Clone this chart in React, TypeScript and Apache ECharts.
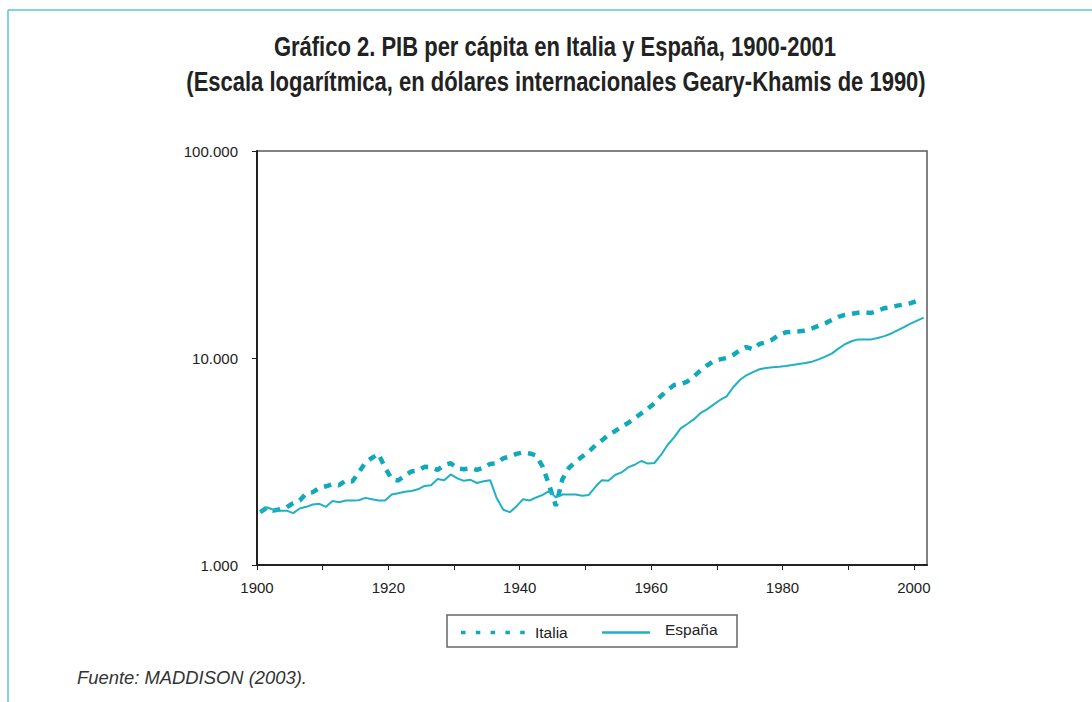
import React, { useEffect, useRef } from "react";
import * as echarts from "echarts";

// ---- Data (GDP per capita, 1990 international Geary-Khamis dollars) ----
const firstYear = 1900;
const years: number[] = [];
for (let y = firstYear; y <= 2001; y++) years.push(y);

// Italia as drawn in the picture (its dashed line stops at 2000)
const italia: number[] = [
  // 1900-1909
  1800, 1890, 1830, 1860, 1900, 1990, 2050, 2220, 2250, 2360,
  // 1910-1919
  2400, 2460, 2430, 2560, 2530, 2800, 3120, 3290, 3440, 2950,
  // 1920-1929
  2600, 2560, 2700, 2830, 2860, 2980, 2970, 2880, 3040, 3100,
  // 1930-1939
  2930, 2900, 2940, 2880, 2950, 3080, 3100, 3280, 3340, 3440,
  // 1940-1949
  3500, 3460, 3380, 2980, 2420, 1930, 2600, 2950, 3150, 3340,
  // 1950-1959
  3520, 3780, 4000, 4250, 4430, 4650, 4850, 5120, 5400, 5700,
  // 1960-1969
  6050, 6550, 7000, 7400, 7480, 7690, 8150, 8700, 9200, 9650,
  // 1970-1979
  9850, 10000, 10350, 10900, 11300, 11000, 11700, 11900, 12300, 12950,
  // 1980-1989
  13300, 13400, 13450, 13550, 13900, 14300, 14700, 15250, 15800, 16150,
  // 1990-1999
  16350, 16550, 16650, 16500, 16900, 17400, 17600, 17900, 18150, 18400,
  // 2000
  18900,
];

const espana: number[] = [
  // 1900-1909
  1800, 1900, 1850, 1830, 1830, 1780, 1875, 1910, 1960, 1975,
  // 1910-1919
  1910, 2040, 2010, 2050, 2050, 2055, 2110, 2080, 2050, 2050,
  // 1920-1929
  2190, 2220, 2260, 2280, 2320, 2410, 2430, 2600, 2570, 2740,
  // 1930-1939
  2620, 2550, 2580, 2490, 2540, 2570, 2100, 1850, 1800, 1920,
  // 1940-1949
  2080, 2050, 2120, 2180, 2280, 2120, 2190, 2190, 2190, 2160,
  // 1950-1959
  2180, 2380, 2570, 2550, 2720, 2800, 2960, 3050, 3180, 3090,
  // 1960-1969
  3110, 3400, 3800, 4140, 4570, 4800, 5050, 5410, 5650, 5950,
  // 1970-1979
  6270, 6520, 7220, 7830, 8250, 8550, 8820, 8950, 9020, 9080,
  // 1980-1989
  9150, 9250, 9350, 9450, 9600, 9850, 10150, 10500, 11100, 11650,
  // 1990-1999
  12050, 12300, 12300, 12300, 12500, 12750, 13100, 13600, 14100, 14650,
  // 2000-2001
  15150, 15660,
];

const yTicks: number[] = [1000, 10000, 100000];
const titleLines: string[] = [
  "Gráfico 2. PIB per cápita en Italia y España, 1900-2001",
  "(Escala logarítmica, en dólares internacionales Geary-Khamis de 1990)",
];
const seriesNames: string[] = ["Italia", "España"];
const sourceText = "Fuente: MADDISON (2003).";

const COL_IT = "#10a9bb";
const COL_ES = "#20b1c2";
const FONT = '"Liberation Sans", Arial, Helvetica, sans-serif';

function fmtThousands(v: number): string {
  return String(Math.round(v)).replace(/\B(?=(\d{3})+(?!\d))/g, ".");
}

export default function App() {
  const ref = useRef<HTMLDivElement>(null);

  useEffect(() => {
    if (!ref.current) return;
    const chart = echarts.init(ref.current, null, { renderer: "svg" });

    const itData = italia.map((v, i) => [years[i], v]);
    const esData = espana.map((v, i) => [years[i], v]);

    const option: any = {
      animation: false,
      backgroundColor: "#ffffff",
      grid: {
        left: 257,
        top: 151,
        width: 670,
        height: 414,
        show: true,
        borderColor: "#5a5a5a",
        borderWidth: 1.5,
        backgroundColor: "transparent",
      },
      xAxis: [
        {
          type: "value",
          min: 1900,
          max: 2002,
          interval: 10,
          axisLine: { show: true, lineStyle: { color: "#222", width: 2 } },
          axisTick: { show: true, length: 5, inside: false, lineStyle: { color: "#222", width: 1 } },
          axisLabel: {
            margin: 15,
            fontFamily: FONT,
            fontSize: 15,
            color: "#222",
            showMaxLabel: false,
            formatter: (v: number) => (v % 20 === 0 ? String(v) : ""),
          },
          splitLine: { show: false },
        },
        {
          type: "value",
          min: 1899.5,
          max: 2001.5,
          show: false,
          splitLine: { show: false },
        },
      ],
      yAxis: {
        type: "log",
        logBase: 10,
        min: yTicks[0],
        max: yTicks[yTicks.length - 1],
        axisLine: { show: true, lineStyle: { color: "#222", width: 2 } },
        axisTick: { show: true, length: 5, inside: false, lineStyle: { color: "#222", width: 1 } },
        minorTick: { show: false },
        axisLabel: {
          margin: 19,
          fontFamily: FONT,
          fontSize: 15,
          color: "#222",
          formatter: (v: number) => fmtThousands(v),
        },
        splitLine: {
          show: true,
          lineStyle: {
            color: ["rgba(0,0,0,0)", "#111", "rgba(0,0,0,0)"],
            type: [2, 2],
            width: 1,
          },
        },
      },
      series: [
        {
          name: seriesNames[0],
          type: "line",
          xAxisIndex: 1,
          yAxisIndex: 0,
          data: itData,
          showSymbol: false,
          symbol: "none",
          lineStyle: { color: COL_IT, width: 4.5, type: [7.5, 7], cap: "butt" },
          z: 3,
        },
        {
          name: seriesNames[1],
          type: "line",
          xAxisIndex: 1,
          yAxisIndex: 0,
          data: esData,
          showSymbol: false,
          symbol: "none",
          lineStyle: { color: COL_ES, width: 2 },
          z: 4,
        },
      ],
      graphic: [
        // outer frame (top and left)
        {
          type: "line",
          shape: { x1: 8, y1: 10, x2: 1092, y2: 10 },
          style: { stroke: "#55c7d6", lineWidth: 1.5 },
        },
        {
          type: "line",
          shape: { x1: 8, y1: 10, x2: 8, y2: 702 },
          style: { stroke: "#55c7d6", lineWidth: 1.5 },
        },
        // title
        {
          type: "text",
          x: 555,
          y: 47,
          scaleX: 0.815,
          style: {
            text: titleLines[0],
            fontFamily: FONT,
            fontWeight: "bold",
            fontSize: 27,
            fill: "#222",
            align: "center",
            verticalAlign: "middle",
          },
        },
        {
          type: "text",
          x: 556,
          y: 82,
          scaleX: 0.815,
          style: {
            text: titleLines[1],
            fontFamily: FONT,
            fontWeight: "bold",
            fontSize: 27,
            fill: "#222",
            align: "center",
            verticalAlign: "middle",
          },
        },
        // legend box
        {
          type: "rect",
          shape: { x: 447, y: 615, width: 290, height: 32 },
          style: { fill: "#fff", stroke: "#666", lineWidth: 1.5 },
        },
        {
          type: "line",
          shape: { x1: 461, y1: 632.5, x2: 526, y2: 632.5 },
          style: { stroke: COL_IT, lineWidth: 3.5, lineDash: [4.5, 10.3] },
        },
        {
          type: "text",
          x: 535,
          y: 632,
          style: {
            text: seriesNames[0],
            fontFamily: FONT,
            fontSize: 15.5,
            fill: "#222",
            verticalAlign: "middle",
          },
        },
        {
          type: "line",
          shape: { x1: 602, y1: 632.5, x2: 650, y2: 632.5 },
          style: { stroke: COL_ES, lineWidth: 2.5 },
        },
        {
          type: "text",
          x: 665,
          y: 629,
          style: {
            text: seriesNames[1],
            fontFamily: FONT,
            fontSize: 15.5,
            fill: "#222",
            verticalAlign: "middle",
          },
        },
        // source
        {
          type: "text",
          x: 77,
          y: 677,
          style: {
            text: sourceText,
            fontFamily: FONT,
            fontStyle: "italic",
            fontSize: 18.4,
            fill: "#333",
            verticalAlign: "middle",
          },
        },
      ],
    };

    chart.setOption(option);
    return () => {
      chart.dispose();
    };
  }, []);

  return (
    <div
      ref={ref}
      style={{ position: "fixed", left: 0, top: 0, width: 1092, height: 702, background: "#fff" }}
    />
  );
}
